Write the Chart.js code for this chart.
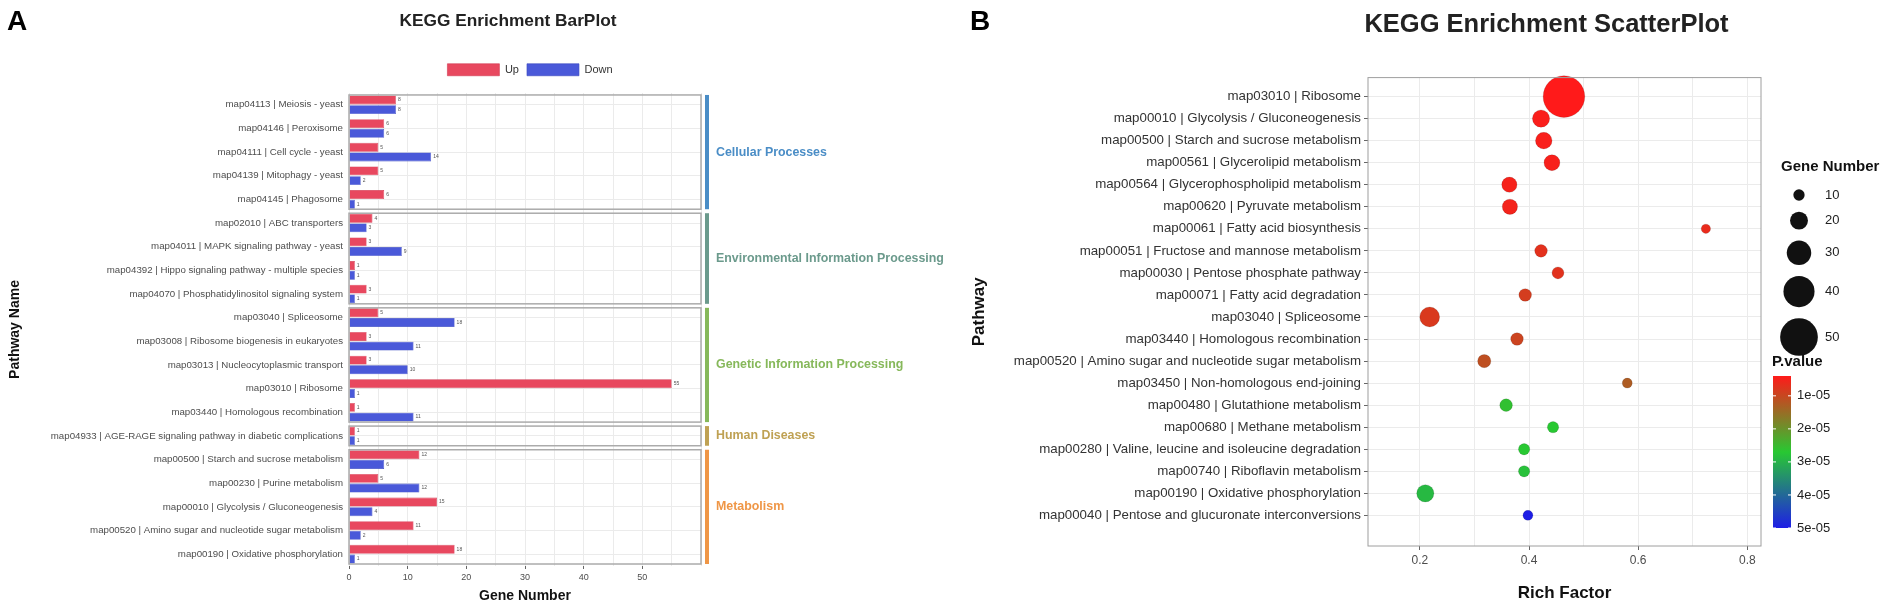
<!DOCTYPE html>
<html>
<head>
<meta charset="utf-8">
<script src="https://cdn.jsdelivr.net/npm/chart.js@4.4.0/dist/chart.umd.min.js"></script>
<style>
  body { margin: 0; background: #fff; width: 1902px; height: 613px; overflow: hidden; position: relative; }
  #barA { position: absolute; left: 0; top: 0; }
  #scatB { position: absolute; left: 960px; top: 0; }
</style>
</head>
<body>
<canvas id="barA" width="960" height="613"></canvas>
<canvas id="scatB" width="942" height="613"></canvas>
<script>
// ---- panel A data ----
var barPathways = [
  'map04113 | Meiosis - yeast',
  'map04146 | Peroxisome',
  'map04111 | Cell cycle - yeast',
  'map04139 | Mitophagy - yeast',
  'map04145 | Phagosome',
  'map02010 | ABC transporters',
  'map04011 | MAPK signaling pathway - yeast',
  'map04392 | Hippo signaling pathway - multiple species',
  'map04070 | Phosphatidylinositol signaling system',
  'map03040 | Spliceosome',
  'map03008 | Ribosome biogenesis in eukaryotes',
  'map03013 | Nucleocytoplasmic transport',
  'map03010 | Ribosome',
  'map03440 | Homologous recombination',
  'map04933 | AGE-RAGE signaling pathway in diabetic complications',
  'map00500 | Starch and sucrose metabolism',
  'map00230 | Purine metabolism',
  'map00010 | Glycolysis / Gluconeogenesis',
  'map00520 | Amino sugar and nucleotide sugar metabolism',
  'map00190 | Oxidative phosphorylation'
];
var upGenes   = [8, 6, 5, 5, 6, 4, 3, 1, 3, 5, 3, 3, 55, 1, 1, 12, 5, 15, 11, 18];
var downGenes = [8, 6, 14, 2, 1, 3, 9, 1, 1, 18, 11, 10, 1, 11, 1, 6, 12, 4, 2, 1];
var groupNames = ['Cellular Processes', 'Environmental Information Processing',
  'Genetic Information Processing', 'Human Diseases', 'Metabolism'];
var groupSizes = [5, 4, 5, 1, 5];
var groupColors = ['#4A8DC6', '#6B9A8C', '#86B85A', '#BFA153', '#EF9646'];
var geneTicks = [0, 10, 20, 30, 40, 50];

// ---- panel B data ----
var scatterPathways = [
  'map03010 | Ribosome',
  'map00010 | Glycolysis / Gluconeogenesis',
  'map00500 | Starch and sucrose metabolism',
  'map00561 | Glycerolipid metabolism',
  'map00564 | Glycerophospholipid metabolism',
  'map00620 | Pyruvate metabolism',
  'map00061 | Fatty acid biosynthesis',
  'map00051 | Fructose and mannose metabolism',
  'map00030 | Pentose phosphate pathway',
  'map00071 | Fatty acid degradation',
  'map03040 | Spliceosome',
  'map03440 | Homologous recombination',
  'map00520 | Amino sugar and nucleotide sugar metabolism',
  'map03450 | Non-homologous end-joining',
  'map00480 | Glutathione metabolism',
  'map00680 | Methane metabolism',
  'map00280 | Valine, leucine and isoleucine degradation',
  'map00740 | Riboflavin metabolism',
  'map00190 | Oxidative phosphorylation',
  'map00040 | Pentose and glucuronate interconversions'
];
var richFactor = [0.464, 0.422, 0.427, 0.442, 0.364, 0.365, 0.724, 0.422, 0.453, 0.393,
  0.218, 0.378, 0.318, 0.58, 0.358, 0.444, 0.391, 0.391, 0.21, 0.398];
var geneNumber = [56, 19, 18, 17, 16, 16, 7, 12, 11, 12, 23, 12, 13, 8, 12, 10, 10, 10, 19, 8];
var pValue = [4e-6, 4.5e-6, 4.6e-6, 4.8e-6, 5e-6, 5.2e-6, 6.3e-6, 7e-6, 7.2e-6, 8.6e-6,
  8.1e-6, 9.5e-6, 1.1e-5, 1.27e-5, 2.6e-5, 2.7e-5, 2.7e-5, 2.8e-5, 2.9e-5, 5e-5];
var richTicks = [0.2, 0.4, 0.6, 0.8];
var richGrid = [0.2, 0.3, 0.4, 0.5, 0.6, 0.7, 0.8];
var sizeBreaks = [10, 20, 30, 40, 50];
var pBreaks = [1e-5, 2e-5, 3e-5, 4e-5, 5e-5];

var FONT = '"Liberation Sans", Arial, Helvetica, sans-serif';
Chart.defaults.font.family = FONT;
Chart.defaults.color = '#4D4D4D';
Chart.defaults.animation = false;

var pLow = 4e-6, pHigh = 5e-5;
var cRed = [255, 26, 26], cGreen = [40, 200, 50], cBlue = [30, 30, 230];
function mix(a, b, t) {
  return 'rgb(' + a.map(function (v, k) { return Math.round(v + (b[k] - v) * t); }).join(',') + ')';
}
function pColor(p) {
  var f = Math.min(1, Math.max(0, (p - pLow) / (pHigh - pLow)));
  return f < 0.5 ? mix(cRed, cGreen, f * 2) : mix(cGreen, cBlue, (f - 0.5) * 2);
}
function geneRadius(n) { return 2.35 + 0.33 * n; }
function fmtP(p) {
  var e = p.toExponential(0).split('e');
  return e[0] + 'e-' + ('0' + Math.abs(+e[1])).slice(-2);
}

// nudge title / legend blocks sideways after layout
function shiftBlocks(titleDx, legendDx) {
  return {
    id: 'shiftBlocks',
    afterLayout: function (chart) {
      if (chart.titleBlock) { chart.titleBlock.left += titleDx; chart.titleBlock.right += titleDx; }
      if (chart.legend && legendDx) { chart.legend.left += legendDx; chart.legend.right += legendDx; }
    }
  };
}

// facet frames, strips, value labels
var facetPlugin = {
  id: 'facets',
  afterDatasetsDraw: function (chart) {
    var ctx = chart.ctx;
    ctx.save();
    ctx.font = '5px ' + FONT;
    ctx.fillStyle = '#555';
    ctx.textBaseline = 'middle';
    chart.data.datasets.forEach(function (ds, di) {
      chart.getDatasetMeta(di).data.forEach(function (bar, i) {
        ctx.fillText(String(ds.data[i]), bar.x + 2, bar.y);
      });
    });
    ctx.restore();
  },
  afterDraw: function (chart) {
    var ctx = chart.ctx, area = chart.chartArea, y = chart.scales.y;
    var step = y.getPixelForValue(1) - y.getPixelForValue(0);
    var start = 0;
    ctx.save();
    groupSizes.forEach(function (n, g) {
      var top = y.getPixelForValue(start) - step / 2 + 2;
      var bottom = y.getPixelForValue(start + n - 1) + step / 2 - 2;
      ctx.strokeStyle = '#ABABAB';
      ctx.lineWidth = 1.5;
      ctx.strokeRect(area.left, top, area.right - area.left, bottom - top);
      ctx.fillStyle = groupColors[g];
      ctx.fillRect(area.right + 4, top, 4, bottom - top);
      ctx.font = 'bold 12.4px ' + FONT;
      ctx.textBaseline = 'middle';
      ctx.fillText(groupNames[g], area.right + 15, (top + bottom) / 2);
      start += n;
    });
    ctx.fillStyle = '#000';
    ctx.font = 'bold 28px ' + FONT;
    ctx.textBaseline = 'middle';
    ctx.fillText('A', 7, 22);
    ctx.restore();
  }
};

new Chart(document.getElementById('barA'), {
  type: 'bar',
  data: {
    labels: barPathways,
    datasets: [
      { label: 'Up', data: upGenes, backgroundColor: '#E8485F', borderColor: '#D23A52', borderWidth: 0.6 },
      { label: 'Down', data: downGenes, backgroundColor: '#4A59D9', borderColor: '#3A48C0', borderWidth: 0.6 }
    ]
  },
  options: {
    responsive: false,
    indexAxis: 'y',
    layout: { padding: { left: 0, right: 259, top: 0, bottom: 0 } },
    datasets: { bar: { categoryPercentage: 0.82, barPercentage: 0.92 } },
    scales: {
      x: {
        min: 0, max: 60,
        ticks: {
          stepSize: 5, font: { size: 9 }, color: '#4D4D4D', maxRotation: 0,
          callback: function (v) { return geneTicks.indexOf(v) >= 0 ? v : ''; }
        },
        grid: {
          color: '#EBEBEB', tickLength: 3,
          tickColor: function (c) { return c.tick && geneTicks.indexOf(c.tick.value) >= 0 ? '#666' : 'rgba(0,0,0,0)'; }
        },
        border: { display: false },
        title: { display: true, text: 'Gene Number', color: '#111', font: { size: 14, weight: 'bold' }, padding: { top: 2, bottom: 8 } },
        afterFit: function (s) { s.height = 47; }
      },
      y: {
        ticks: { autoSkip: false, font: { size: 9.7 }, color: '#4D4D4D', padding: 6 },
        grid: { color: '#EBEBEB', offset: false, drawTicks: false },
        border: { display: false },
        title: { display: true, text: 'Pathway Name', color: '#111', font: { size: 14, weight: 'bold' }, padding: { top: 7 } },
        afterFit: function (s) { s.width = 349; }
      }
    },
    plugins: {
      title: { display: true, text: 'KEGG Enrichment BarPlot', fullSize: false, color: '#222',
        font: { size: 17.3, weight: 'bold' }, padding: { top: 11, bottom: 24 } },
      subtitle: { display: true, text: ' ', fullSize: false, weight: 500, font: { size: 1 }, padding: { top: 3, bottom: 3 } },
      legend: { fullSize: false, labels: { boxWidth: 52, boxHeight: 12, padding: 8, font: { size: 11 }, color: '#333' } },
      tooltip: { enabled: false }
    }
  },
  plugins: [facetPlugin, shiftBlocks(-17, 5)]
});

// border + legends for panel B
var scatterDeco = {
  id: 'scatterDeco',
  afterDraw: function (chart) {
    var ctx = chart.ctx, area = chart.chartArea;
    ctx.save();
    ctx.strokeStyle = '#9E9E9E';
    ctx.lineWidth = 1;
    ctx.strokeRect(area.left, area.top, area.right - area.left, area.bottom - area.top);

    var lx = area.right + 20;
    ctx.fillStyle = '#111';
    ctx.font = 'bold 15px ' + FONT;
    ctx.textBaseline = 'middle';
    ctx.fillText('Gene Number', lx, 167);
    var cx = lx + 18, cy = 195, prev = 0;
    sizeBreaks.forEach(function (v, i) {
      var r = geneRadius(v);
      if (i > 0) cy += prev + r + 11;
      ctx.beginPath();
      ctx.arc(cx, cy, r, 0, Math.PI * 2);
      ctx.fillStyle = '#111';
      ctx.fill();
      ctx.fillStyle = '#222';
      ctx.font = '13px ' + FONT;
      ctx.fillText(String(v), lx + 44, cy);
      prev = r;
    });

    ctx.fillStyle = '#111';
    ctx.font = 'bold 15px ' + FONT;
    ctx.fillText('P.value', lx - 9, 362);
    var cbX = lx - 8, cbW = 18, cbTop = 376, cbH = 152;
    var g = ctx.createLinearGradient(0, cbTop, 0, cbTop + cbH);
    g.addColorStop(0, pColor(pLow));
    g.addColorStop(0.5, pColor((pLow + pHigh) / 2));
    g.addColorStop(1, pColor(pHigh));
    ctx.fillStyle = g;
    ctx.fillRect(cbX, cbTop, cbW, cbH);
    ctx.font = '13px ' + FONT;
    pBreaks.forEach(function (p) {
      var yy = cbTop + (p - pLow) / (pHigh - pLow) * cbH;
      ctx.strokeStyle = '#fff';
      ctx.beginPath();
      ctx.moveTo(cbX, yy); ctx.lineTo(cbX + 3, yy);
      ctx.moveTo(cbX + cbW - 3, yy); ctx.lineTo(cbX + cbW, yy);
      ctx.stroke();
      ctx.fillStyle = '#222';
      ctx.fillText(fmtP(p), cbX + cbW + 6, yy);
    });

    ctx.fillStyle = '#000';
    ctx.font = 'bold 28px ' + FONT;
    ctx.fillText('B', 10, 22);
    ctx.restore();
  }
};

new Chart(document.getElementById('scatB'), {
  type: 'bubble',
  data: {
    datasets: [{
      label: 'Pathway',
      data: scatterPathways.map(function (name, i) {
        return { x: richFactor[i], y: name, r: geneRadius(geneNumber[i]) };
      }),
      backgroundColor: pValue.map(pColor),
      borderColor: 'rgba(0,0,0,0.12)',
      borderWidth: 1
    }]
  },
  options: {
    responsive: false,
    layout: { padding: { left: 0, right: 141, top: 0, bottom: 0 } },
    scales: {
      x: {
        type: 'linear', min: 0.105, max: 0.825,
        afterBuildTicks: function (s) { s.ticks = richGrid.map(function (v) { return { value: v }; }); },
        ticks: {
          autoSkip: false, maxRotation: 0, font: { size: 12 }, color: '#4D4D4D',
          callback: function (v) {
            return richTicks.some(function (t) { return Math.abs(t - v) < 1e-9; }) ? v.toFixed(1) : '';
          }
        },
        grid: {
          color: '#EBEBEB', tickLength: 4,
          tickColor: function (c) {
            var v = c.tick ? c.tick.value : -1;
            return richTicks.some(function (t) { return Math.abs(t - v) < 1e-9; }) ? '#666' : 'rgba(0,0,0,0)';
          }
        },
        border: { display: false },
        title: { display: true, text: 'Rich Factor', color: '#111', font: { size: 17, weight: 'bold' }, padding: { top: 4, bottom: 9 } },
        afterFit: function (s) { s.height = 67; }
      },
      y: {
        type: 'category', labels: scatterPathways, offset: true,
        // a little more room below the last pathway than above the first
        afterBuildTicks: function (s) { s._startValue = -0.86; s._valueRange = scatterPathways.length - 1 + 0.86 + 1.39; },
        ticks: { autoSkip: false, font: { size: 13.3 }, color: '#333', padding: 3 },
        grid: { color: '#EBEBEB', offset: false, tickLength: 4, tickColor: '#666' },
        border: { display: false },
        title: { display: true, text: 'Pathway', color: '#111', font: { size: 17, weight: 'bold' }, padding: { top: 9 } },
        afterFit: function (s) { s.width = 408; }
      }
    },
    plugins: {
      title: { display: true, text: 'KEGG Enrichment ScatterPlot', fullSize: false, color: '#222',
        font: { size: 25.5, weight: 'bold' }, padding: { top: 10, bottom: 37 } },
      legend: { display: false },
      tooltip: { enabled: false }
    }
  },
  plugins: [scatterDeco, shiftBlocks(-18, 0)]
});
</script>
</body>
</html>
